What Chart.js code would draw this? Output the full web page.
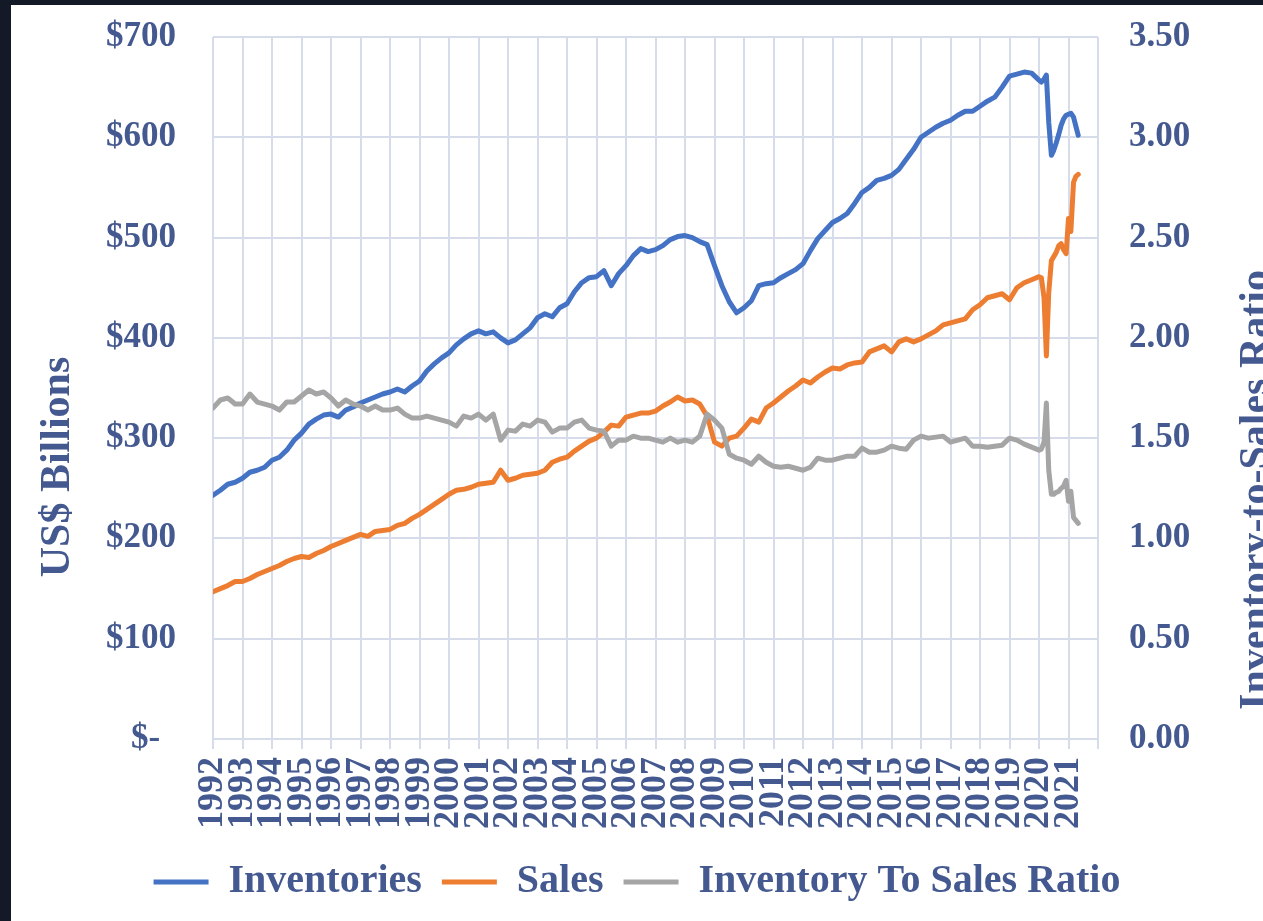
<!DOCTYPE html>
<html>
<head>
<meta charset="utf-8">
<script src="https://cdn.jsdelivr.net/npm/chart.js@4.4.0/dist/chart.umd.min.js"></script>
<style>
  body { margin: 0; background: #131926; }
  #box { position: absolute; left: 11px; top: 5px; width: 1252px; height: 916px; background: #ffffff; }
</style>
</head>
<body>
<div id="box"><canvas id="chart"></canvas></div>
<script>
// dates as decimal years: quarterly to 2019, monthly for 2020-2021
const dates = [
  1992.00, 1992.25, 1992.50, 1992.75,
  1993.00, 1993.25, 1993.50, 1993.75,
  1994.00, 1994.25, 1994.50, 1994.75,
  1995.00, 1995.25, 1995.50, 1995.75,
  1996.00, 1996.25, 1996.50, 1996.75,
  1997.00, 1997.25, 1997.50, 1997.75,
  1998.00, 1998.25, 1998.50, 1998.75,
  1999.00, 1999.25, 1999.50, 1999.75,
  2000.00, 2000.25, 2000.50, 2000.75,
  2001.00, 2001.25, 2001.50, 2001.75,
  2002.00, 2002.25, 2002.50, 2002.75,
  2003.00, 2003.25, 2003.50, 2003.75,
  2004.00, 2004.25, 2004.50, 2004.75,
  2005.00, 2005.25, 2005.50, 2005.75,
  2006.00, 2006.25, 2006.50, 2006.75,
  2007.00, 2007.25, 2007.50, 2007.75,
  2008.00, 2008.25, 2008.50, 2008.75,
  2009.00, 2009.25, 2009.50, 2009.75,
  2010.00, 2010.25, 2010.50, 2010.75,
  2011.00, 2011.25, 2011.50, 2011.75,
  2012.00, 2012.25, 2012.50, 2012.75,
  2013.00, 2013.25, 2013.50, 2013.75,
  2014.00, 2014.25, 2014.50, 2014.75,
  2015.00, 2015.25, 2015.50, 2015.75,
  2016.00, 2016.25, 2016.50, 2016.75,
  2017.00, 2017.25, 2017.50, 2017.75,
  2018.00, 2018.25, 2018.50, 2018.75,
  2019.00, 2019.25, 2019.50, 2019.75,
  2020.00, 2020.08, 2020.17, 2020.25, 2020.33, 2020.42,
  2020.50, 2020.58, 2020.67, 2020.75, 2020.83, 2020.92,
  2021.00, 2021.08, 2021.17, 2021.25, 2021.33
];

// US$ billions
const inventories = [
  243, 248, 254, 256,
  260, 266, 268, 271,
  278, 281, 288, 298,
  305, 314, 319, 323,
  324, 321, 328, 331,
  335, 338, 341, 344,
  346, 349, 346, 352,
  357, 367, 374, 380,
  385, 393, 399, 404,
  407, 404, 406, 400,
  395, 398, 404, 410,
  420, 424, 421, 430,
  434, 446, 455, 460,
  461, 467, 452, 464,
  472, 482, 489, 486,
  488, 492, 498, 501,
  502, 500, 496, 493,
  472, 452, 436, 425,
  430, 437, 452, 454,
  455, 460, 464, 468,
  474, 487, 499, 507,
  515, 519, 524, 534,
  545, 550, 557, 559,
  562, 568, 578, 588,
  600, 605, 610, 614,
  617, 622, 626, 626,
  631, 636, 640, 650,
  661, 663, 665, 664,
  657, 655, 658, 662, 615, 582,
  587, 594, 603, 612, 618, 622,
  623, 624, 620, 611, 602
];

const sales = [
  147, 150, 153, 157,
  157, 160, 164, 167,
  170, 173, 177, 180,
  182, 181, 185, 188,
  192, 195, 198, 201,
  204, 202, 207, 208,
  209, 213, 215, 220,
  224, 229, 234, 239,
  244, 248, 249, 251,
  254, 255, 256, 268,
  258, 260, 263, 264,
  265, 268, 276, 279,
  281, 287, 292, 297,
  300, 306, 313, 312,
  321, 323, 325, 325,
  327, 332, 336, 341,
  337, 338, 334, 322,
  296, 292, 300, 302,
  310, 319, 316, 330,
  335, 341, 347, 352,
  358, 355, 361, 366,
  370, 369, 373, 375,
  376, 386, 389, 392,
  386, 396, 399, 396,
  399, 403, 407, 413,
  415, 417, 419, 428,
  433, 440, 442, 444,
  438, 450, 455, 458,
  461, 460, 440, 382, 445, 477,
  481, 485, 492, 494, 488, 484,
  519, 506, 555, 561, 563
];

const ratio = [
  1.65, 1.69, 1.70, 1.67,
  1.67, 1.72, 1.68, 1.67,
  1.66, 1.64, 1.68, 1.68,
  1.71, 1.74, 1.72, 1.73,
  1.70, 1.66, 1.69, 1.67,
  1.66, 1.64, 1.66, 1.64,
  1.64, 1.65, 1.62, 1.60,
  1.60, 1.61, 1.60, 1.59,
  1.58, 1.56, 1.61, 1.60,
  1.62, 1.59, 1.62, 1.49,
  1.54, 1.535, 1.57, 1.56,
  1.59, 1.58, 1.53, 1.55,
  1.55, 1.58, 1.59, 1.55,
  1.54, 1.535, 1.46, 1.49,
  1.49, 1.51, 1.50, 1.50,
  1.49, 1.48, 1.50, 1.48,
  1.49, 1.48, 1.51, 1.62,
  1.59, 1.55, 1.42, 1.40,
  1.39, 1.37, 1.41, 1.38,
  1.36, 1.355, 1.36, 1.35,
  1.34, 1.355, 1.40, 1.39,
  1.39, 1.40, 1.41, 1.41,
  1.45, 1.43, 1.43, 1.44,
  1.46, 1.45, 1.445, 1.49,
  1.51, 1.50, 1.505, 1.51,
  1.48, 1.49, 1.50, 1.46,
  1.46, 1.455, 1.46, 1.465,
  1.50, 1.49, 1.47, 1.455,
  1.44, 1.445, 1.48, 1.675, 1.34, 1.22,
  1.22, 1.23, 1.235, 1.25, 1.26, 1.29,
  1.185, 1.235, 1.105, 1.09, 1.075
];

const seriesNames = ['Inventories', 'Sales', 'Inventory To Sales Ratio'];
const leftTitle = 'US$ Billions';
const rightTitle = 'Inventory-to-Sales Ratio';

const textColor = '#44598f';
const gridColor = '#d6dce9';
const clear = 'rgba(0,0,0,0)';
const fontFamily = '"Liberation Serif", "Times New Roman", serif';

function toPoints(values) {
  return dates.map((d, i) => ({ x: d, y: values[i] }));
}

// rotated axis titles, both reading bottom to top
const axisTitles = {
  id: 'axisTitles',
  afterDraw(chart) {
    const ctx = chart.ctx;
    const a = chart.chartArea;
    ctx.save();
    ctx.fillStyle = textColor;
    ctx.font = 'bold 42px ' + fontFamily;
    ctx.textAlign = 'center';
    ctx.textBaseline = 'alphabetic';
    ctx.translate(a.left - 144, a.top + 430);
    ctx.rotate(-Math.PI / 2);
    ctx.fillText(leftTitle, 0, 0);
    ctx.restore();

    ctx.save();
    ctx.fillStyle = textColor;
    ctx.font = 'bold 42px ' + fontFamily;
    ctx.textAlign = 'center';
    ctx.textBaseline = 'alphabetic';
    ctx.translate(a.right + 170, a.top + 453);
    ctx.rotate(-Math.PI / 2);
    ctx.fillText(rightTitle, 0, 0);
    ctx.restore();
  }
};

const ctx = document.getElementById('chart').getContext('2d');

new Chart(ctx, {
  type: 'line',
  data: {
    datasets: [
      {
        label: seriesNames[0],
        data: toPoints(inventories),
        borderColor: '#4472c4',
        backgroundColor: '#4472c4',
        borderWidth: 5,
        yAxisID: 'y',
        order: 3
      },
      {
        label: seriesNames[1],
        data: toPoints(sales),
        borderColor: '#ed7d31',
        backgroundColor: '#ed7d31',
        borderWidth: 5,
        yAxisID: 'y',
        order: 2
      },
      {
        label: seriesNames[2],
        data: toPoints(ratio),
        borderColor: '#a5a5a5',
        backgroundColor: '#a5a5a5',
        borderWidth: 5,
        yAxisID: 'y1',
        order: 1
      }
    ]
  },
  options: {
    responsive: true,
    maintainAspectRatio: false,
    animation: false,
    elements: {
      point: { radius: 0 },
      line: { tension: 0, borderCapStyle: 'round', borderJoinStyle: 'round' }
    },
    layout: { padding: { top: 32, left: 0, right: 0, bottom: 9 } },
    plugins: {
      tooltip: { enabled: false },
      legend: {
        position: 'bottom',
        labels: {
          usePointStyle: true,
          pointStyle: 'line',
          pointStyleWidth: 55,
          padding: 20,
          color: textColor,
          font: { family: fontFamily, size: 40, weight: 'bold' },
          sort: (a, b) => a.datasetIndex - b.datasetIndex
        }
      }
    },
    scales: {
      x: {
        type: 'linear',
        min: 1992,
        max: 2022,
        afterFit: (scale) => { scale.height = 103; },
        grid: { color: gridColor, lineWidth: 2, tickLength: 10, drawTicks: true },
        border: { color: gridColor, width: 2 },
        ticks: {
          stepSize: 1,
          autoSkip: false,
          minRotation: 90,
          maxRotation: 90,
          padding: 8,
          color: textColor,
          font: { family: fontFamily, size: 36, weight: 'bold' },
          callback: (v) => (v >= 2022 ? '' : String(v))
        }
      },
      y: {
        position: 'left',
        min: 0,
        max: 700,
        afterFit: (scale) => { scale.width = 202; },
        // invisible tick marks push the labels away from the plot
        grid: { color: gridColor, lineWidth: 2, drawTicks: true, tickLength: 37, tickColor: clear },
        border: { display: false },
        ticks: {
          stepSize: 100,
          padding: 0,
          color: textColor,
          font: { family: fontFamily, size: 35, weight: 'bold' },
          callback: (v) => (v === 0 ? '$- \u2009' : '$' + v)
        }
      },
      y1: {
        position: 'right',
        min: 0,
        max: 3.5,
        afterFit: (scale) => { scale.width = 165; },
        grid: { color: clear, drawOnChartArea: false, drawTicks: true, tickLength: 31, tickColor: clear },
        border: { display: false },
        ticks: {
          stepSize: 0.5,
          padding: 0,
          color: textColor,
          font: { family: fontFamily, size: 35, weight: 'bold' },
          callback: (v) => v.toFixed(2)
        }
      }
    }
  },
  plugins: [axisTitles]
});
</script>
</body>
</html>
